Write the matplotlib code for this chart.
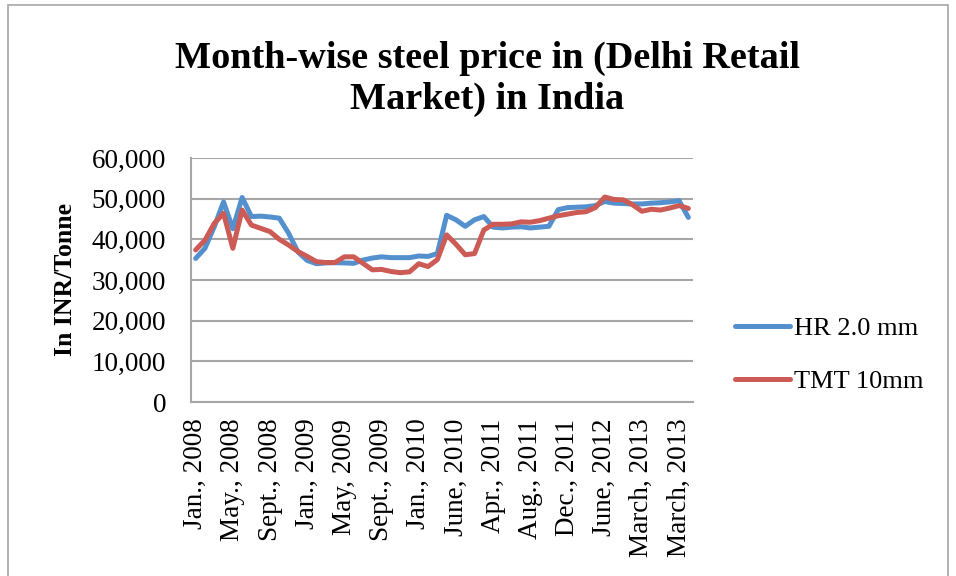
import matplotlib.pyplot as plt
from matplotlib.patches import Rectangle
from matplotlib.ticker import FuncFormatter

# valeurs (INR / tonne), 54 relevés
hr_2mm = [35300, 37800, 43100, 49200, 42600, 50300, 45600, 45700, 45500, 45200,
          41500, 36900, 34800, 34000, 34200, 34250, 34200, 34100, 34900, 35400,
          35700, 35500, 35500, 35500, 35900, 35800, 36500, 45900, 44800, 43200,
          44800, 45600, 43000, 42800, 43000, 43100, 42800, 43000, 43200, 47300,
          47800, 47900, 48000, 48300, 49300, 48900, 48800, 48700, 48700, 48900,
          49000, 49200, 49500, 45400]
tmt_10mm = [37400, 39800, 43900, 46400, 37800, 47200, 43500, 42700, 41900, 40000,
            38600, 37000, 35800, 34500, 34300, 34300, 35700, 35700, 34100, 32500,
            32600, 32100, 31800, 32000, 34000, 33300, 35000, 41100, 38800, 36200,
            36500, 42300, 43700, 43700, 43800, 44300, 44200, 44600, 45200, 45800,
            46200, 46600, 46800, 47800, 50400, 49800, 49700, 48500, 46900, 47400,
            47200, 47700, 48300, 47600]

# une étiquette toutes les 4 catégories
tick_labels = ['Jan., 2008', 'May., 2008', 'Sept., 2008', 'Jan., 2009', 'May, 2009',
               'Sept., 2009', 'Jan., 2010', 'June, 2010', 'Apr., 2011', 'Aug., 2011',
               'Dec., 2011', 'June, 2012', 'March, 2013', 'March, 2013']

plt.rcParams['font.family'] = ['Liberation Serif', 'DejaVu Serif']

fig = plt.figure(figsize=(9.56, 5.76), dpi=100)
fig.patches.append(Rectangle((8 / 956, -0.1), 940 / 956, 1.1 - 5 / 576,
                             transform=fig.transFigure, fill=False,
                             edgecolor='#a6a6a6', linewidth=1.2))

ax = fig.add_axes([191 / 956, 1 - 402 / 576, 502 / 956, 244 / 576])

n = len(hr_2mm)
x = list(range(n))
ax.plot(x, hr_2mm, color='#5590CE', linewidth=3.6, label='HR 2.0 mm',
        solid_capstyle='round', solid_joinstyle='round')
ax.plot(x, tmt_10mm, color='#CC5B56', linewidth=3.6, label='TMT 10mm',
        solid_capstyle='round', solid_joinstyle='round')

ax.set_xlim(-0.5, n - 0.5)
ax.set_ylim(0, 60000)
ax.set_yticks(range(0, 60001, 10000))
ax.yaxis.set_major_formatter(FuncFormatter(lambda v, p: f'{int(v):,}'))
ax.set_xticks(range(0, n, 4))
ax.set_xticklabels(tick_labels, rotation=90)

ax.grid(axis='y', color='#a6a6a6', linewidth=1.5)
ax.set_axisbelow(True)
for s in ['top', 'right']:
    ax.spines[s].set_visible(False)
for s in ['left', 'bottom']:
    ax.spines[s].set_color('#a6a6a6')
    ax.spines[s].set_linewidth(1.5)
ax.tick_params(axis='y', length=0, pad=18, labelsize=19.5)
ax.tick_params(axis='x', length=0, pad=12, labelsize=19.5)

ax.set_ylabel('In INR/Tonne', fontsize=18.5, fontweight='bold')
ax.yaxis.set_label_coords(-0.228, 0.5)

fig.text(0.51, 1 - 79 / 576, 'Month-wise steel price in (Delhi Retail\nMarket) in India',
         ha='center', va='center', fontsize=27.5, fontweight='bold', linespacing=1.2)

fig.legend(loc='center left', bbox_to_anchor=(735 / 956, 1 - 355 / 576), frameon=False,
           borderpad=0, borderaxespad=0, fontsize=19, handlelength=2.1,
           handletextpad=0.15, labelspacing=1.1)

fig.savefig('out.png', dpi=100)
